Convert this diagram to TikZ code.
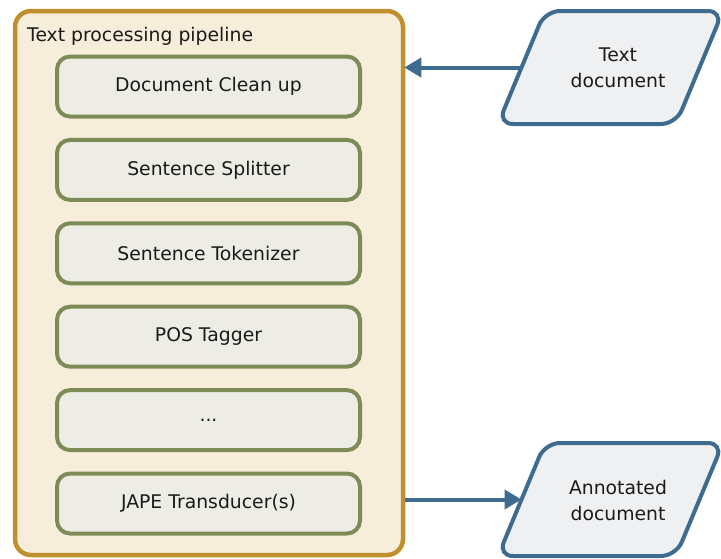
\documentclass[tikz,border=0pt]{standalone}
\usepackage{fontspec}
\setmainfont{DejaVu Sans}
\usetikzlibrary{arrows.meta,calc}
\definecolor{goldline}{HTML}{C0902E}
\definecolor{goldfill}{HTML}{F6EDDA}
\definecolor{oliveline}{HTML}{7D8B56}
\definecolor{olivefill}{HTML}{EDEDE5}
\definecolor{blueline}{HTML}{3F6B8E}
\definecolor{bluefill}{HTML}{EFF0F2}
\definecolor{txt}{HTML}{1A1A1A}
\tikzset{
  container/.style={draw=goldline, fill=goldfill, line width=4.5pt, rounded corners=16pt,
    minimum width=388pt, minimum height=544pt, inner sep=0pt},
  stepbox/.style={draw=oliveline, fill=olivefill, line width=4pt, rounded corners=13pt,
    minimum width=303pt, minimum height=60pt, inner sep=0pt, text=txt,
    font=\fontsize{18.8}{26}\selectfont},
  iobox/.style={draw=blueline, fill=bluefill, line width=4pt, rounded corners=15pt},
  iotext/.style={align=center, text=txt, font=\fontsize{18.8}{26}\selectfont, inner sep=0pt},
  flow/.style={draw=blueline, line width=4pt, -{Triangle[length=17pt,width=19pt]}},
}
\begin{document}
\begin{tikzpicture}[x=1pt,y=-1pt]
\useasboundingbox (0,0) rectangle (721,558);
% container
\node[container] (pipe) at (209,283) {};
\node[anchor=base west, text=txt, font=\fontsize{18.8}{26}\selectfont, inner sep=0pt] (title) at (27,41) {Text processing pipeline};
% steps
\node[stepbox] (s1) at (208.5,86.5) {Document Clean up};
\node[stepbox] (s2) at (208.5,169.9) {Sentence Splitter};
\node[stepbox] (s3) at (208.5,253.3) {Sentence Tokenizer};
\node[stepbox] (s4) at (208.5,336.7) {POS Tagger};
\node[stepbox] (s5) at (208.5,420.1) {...};
\node[stepbox] (s6) at (208.5,503.5) {JAPE Transducer(s)};
% input document
\path[iobox] (545,11) -- (723,11) -- (676,124) -- (498,124) -- cycle;
\coordinate (inL) at (521.5,67.5);
\node[iotext] (indoc) at (618,68) {Text\\document};
% output document
\path[iobox] (545,443) -- (723,443) -- (676,556) -- (498,556) -- cycle;
\coordinate (outL) at (521.5,499.5);
\node[iotext] (outdoc) at (618,500) {Annotated\\document};
% connectors
\draw[flow] (inL) -- ($(pipe.east |- inL)+(-1,0)$);
\draw[flow] (pipe.east |- outL) -- (outL);
\end{tikzpicture}
\end{document}
